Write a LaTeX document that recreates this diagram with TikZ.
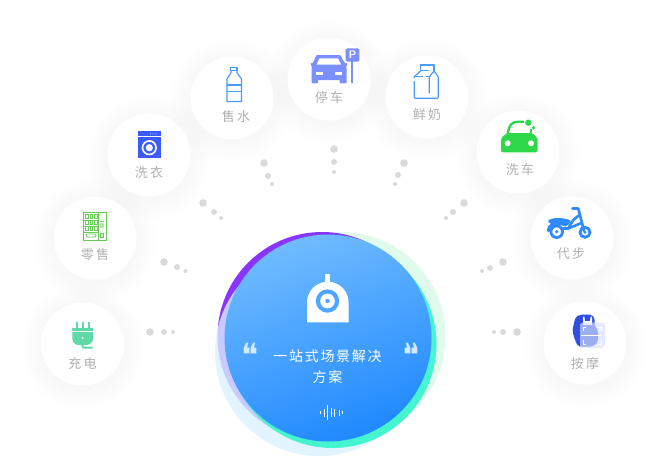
\documentclass[tikz,border=0pt]{standalone}
\usepackage{fontspec}
\newfontfamily\cjk[LetterSpace=18]{Noto Sans CJK SC}
\newfontfamily\cjkmid[LetterSpace=12]{Noto Sans CJK SC}
\newfontfamily\quotefont{DejaVu Sans}
\usetikzlibrary{backgrounds}
\definecolor{mainlight}{HTML}{6FBBFF}
\definecolor{maindark}{HTML}{2089FF}
\definecolor{plum}{HTML}{8A35FF}
\definecolor{sky}{HTML}{D9F1FF}
\definecolor{mint}{HTML}{E0FAEC}
\definecolor{teal}{HTML}{45F5D0}
\definecolor{labgray}{HTML}{B0B0B0}
\definecolor{dotgray}{HTML}{DADADA}
\definecolor{plug}{HTML}{5FD9A8}
\definecolor{vend}{HTML}{66CC55}
\definecolor{wash}{HTML}{3B5BFF}
\definecolor{aqua}{HTML}{4A9BFF}
\definecolor{park}{HTML}{7B8FFF}
\definecolor{clean}{HTML}{2DD84A}
\definecolor{moto}{HTML}{2E8BFF}
\definecolor{massage}{HTML}{2F4FE0}
\tikzset{
	card/.style={circle, fill=white, minimum size=83pt, inner sep=0pt},
	lab/.style={text=labgray, inner sep=0pt, font=\cjk\fontsize{13}{15}\selectfont},
	disc/.style={circle, minimum size=208pt, inner sep=0pt},
	quotemark/.style={text=white!70!mainlight, inner sep=0pt, font=\quotefont\fontsize{32}{32}\selectfont},
}
\begin{document}
\begin{tikzpicture}[x=1pt, y=-1pt]
	\useasboundingbox (0,0) rectangle (668,456);

	% 丸
	\node[card] (A) at (82.5, 344) {};
	\node[card] (B) at (95, 238) {};
	\node[card] (C) at (149, 155) {};
	\node[card] (D) at (232, 98) {};
	\node[card] (E) at (329, 79) {};
	\node[card] (F) at (427, 97) {};
	\node[card] (G) at (518, 152) {};
	\node[card] (H) at (572, 238) {};
	\node[card] (I) at (585, 343) {};

	% 影
	\begin{pgfonlayer}{background}
		\foreach \n in {A,B,C,D,E,F,G,H,I}
			\foreach \r in {44,47,...,62}
				\fill[black, opacity=0.004] ([yshift=-3pt]\n) circle (\r);
	\end{pgfonlayer}

	% 点
	\foreach \x/\y/\r in {150/332/3.8, 164/332/3, 173/332/2,
		164/262/3.8, 177/267/3, 185.5/271/2,
		203/203/3.8, 214/212/3, 221/218/2,
		264/163/3.8, 268/176/3, 272/184/2,
		334/149/3.8, 334/162/3, 334/172/2,
		404/163/3.8, 398/175/3, 395/184/2,
		464/203/3.8, 453/212/3, 446/218/2,
		503/262/3.8, 490/268/3, 482/271/2,
		517/332/3.8, 503/332/3, 494/332/2}
		\fill[dotgray] (\x,\y) circle (\r);

	% 真ん中の円
	\node[disc, fill=mint] (M1) at (341.5, 336) {};
	\node[disc, fill=plum, minimum size=209pt] (M2) at (322, 336.5) {};
	\node[disc, fill=sky, fill opacity=0.8] (M3) at (319, 352) {};
	\node[disc, fill=teal] (M4) at (332.5, 344) {};
	\node[disc, minimum size=207pt, top color=mainlight, bottom color=maindark, shading angle=20] (M) at (328, 338) {};

	% カメラ
	\fill[white] (325.3,274.3) rectangle (330,283);
	\fill[white] (307,322.3) -- (307,302.5) arc (180:360:20.8) -- (348.6,322.3) -- cycle;
	\fill[mainlight!60!maindark] (327.5,301) circle (11.7);
	\fill[white] (327.5,301) circle (7.3);
	\fill[mainlight!60!maindark] (327.5,301) circle (2.2);

	% 音
	\foreach \x/\h in {320.7/1.3, 324.3/4, 327.7/7.5, 331/4.5, 334.3/4, 339/3, 342.7/1.3}
		\draw[white, line width=0.6pt] (\x,412.7-\h) -- (\x,412.7+\h);

	% 文字
	\node[text=white, align=center, inner sep=0pt, font=\cjkmid\fontsize{14}{21}\selectfont] (T) at (327.5, 366.5) {一站式场景解决\\方案};
	\node[quotemark] (QL) at (250.5, 354.5) {❝};
	\node[quotemark] (QR) at (412, 354.5) {\reflectbox{❝}};

	\node[lab] (tA) at (82.5, 364) {充电};
	\node[lab] (tB) at (95, 255) {零售};
	\node[lab] (tC) at (149, 173) {洗衣};
	\node[lab] (tD) at (236, 117) {售水};
	\node[lab] (tE) at (329, 98) {停车};
	\node[lab] (tF) at (427, 115) {鲜奶};
	\node[lab] (tG) at (520, 170) {洗车};
	\node[lab] (tH) at (571, 254) {代步};
	\node[lab] (tI) at (585, 364) {按摩};

	% 充電
	\foreach \x in {76.7, 82.7, 88.7}
		\fill[plug] (\x-1.1,322) rectangle (\x+1.1,329);
	\fill[plug, rounded corners=1pt] (71.8,328) rectangle (93.5,331);
	\fill[plug] (72.3,332) -- (93,332) -- (93,339) .. controls (93,343) and (89,345) .. (86,345) -- (79,345) .. controls (76,345) and (72.3,343) .. (72.3,339) -- cycle;
	\fill[white] (82.7,338) circle (1);
	\draw[plug, line width=2pt] (82.7,345) -- (82.7,346.5) -- (83.5,347.7) -- (92.7,347.7);

	% 自販機
	\draw[vend, line width=1pt] (83.5,212) rectangle (106,240);
	\draw[vend, line width=1pt] (98.3,212) -- (98.3,240);
	\foreach \y in {214.5, 220.5, 226.5} {
		\draw[vend, line width=1pt] (83.5,\y+5.5) -- (98.3,\y+5.5);
		\foreach \x in {85.5, 90, 94.5}
			\draw[vend, line width=0.9pt] (\x,\y) rectangle (\x+2.6,\y+3.5);
	}
	\draw[vend, line width=0.9pt, rounded corners=1pt] (86,234) rectangle (96,237);
	\draw[vend, line width=0.9pt] (100.2,233) rectangle (103.8,237);
	\draw[vend, line width=0.8pt] (100.2,221) -- (103.8,221);
	\fill[vend!50!white] (100.2,223) rectangle (103.8,228);

	% 洗濯機
	\fill[wash] (137.7,131) rectangle (161.3,158.3);
	\draw[white, line width=0.8pt] (137.7,136.7) -- (161.3,136.7);
	\foreach \x in {150.5, 153, 156}
		\fill[white] (\x,133.8) circle (0.5);
	\draw[white, line width=1.6pt] (149.3,147.7) circle (6.8);
	\fill[white] (149.3,147.7) circle (3.6);

	% ボトル
	\draw[aqua, line width=1.2pt, line join=round] (230.5,67.5) rectangle (237,70.7);
	\draw[aqua, line width=1.2pt, line join=round] (231,70.7) -- (231,72.7) -- (227,79) -- (227,101.5) -- (241.5,101.5) -- (241.5,79) -- (237,72.7) -- (237,70.7);
	\draw[aqua, line width=1.2pt] (227,85) -- (241.5,85);
	\draw[aqua, line width=1.2pt] (227,91.7) -- (241.5,91.7);

	% 車と標識
	\fill[park, rounded corners=3pt] (311.5,65) -- (315,59) .. controls (316,56) and (317,55) .. (320,55) -- (337,55) .. controls (340,55) and (341,56) .. (342,59) -- (346.5,65) -- (346.5,80) -- (311.5,80) -- cycle;
	\fill[park] (311,63.3) rectangle (315,66);
	\fill[park] (342.7,63.3) rectangle (347,66);
	\fill[park, rounded corners=1pt] (311.7,76) rectangle (318,83.3);
	\fill[park, rounded corners=1pt] (339.5,76) rectangle (346.5,83.3);
	\fill[white] (316.5,64.5) -- (319.5,58.3) -- (338,58.3) -- (341,64.5) -- cycle;
	\fill[white] (316,71.7) rectangle (322.7,75);
	\fill[white] (335,71.7) rectangle (341.7,75);
	\fill[park, rounded corners=1.5pt] (345.7,48.3) rectangle (359.3,61.7);
	\fill[park] (351.4,61) rectangle (353.2,82.7);
	\node[text=white, inner sep=0pt, font=\sffamily\bfseries\fontsize{11}{11}\selectfont] (P) at (352.5, 55) {P};

	% 牛乳
	\draw[aqua, line width=1.2pt, line join=round] (420.7,70.7) -- (420.7,65) -- (434,65) -- (434,70.7);
	\draw[aqua, line width=1.2pt, line join=round] (420.7,70.7) -- (414.3,76.7) -- (414.3,78);
	\draw[aqua, line width=1.2pt, line join=round, rounded corners=1pt] (414.3,81) -- (414.3,98.3) -- (438.3,98.3) -- (438.3,76.7) -- (434,71) -- (429.3,76.7) -- (429.3,93.3);
	\draw[aqua, line width=1.2pt] (420.7,70.7) -- (429.3,70.7);
	\draw[aqua, line width=1.2pt] (414.3,76.7) -- (423,76.7);
	\draw[aqua, line width=1.2pt] (425.5,76.7) -- (429.3,76.7);

	% 洗車
	\draw[clean, line width=2.4pt] (507.7,134) .. controls (509,124) and (513,121.7) .. (518,121.7) -- (524,121.7);
	\fill[clean, rounded corners=2pt] (507,133) -- (532,133) -- (537.7,138) -- (537.7,152.3) -- (501,152.3) -- (501,138) -- cycle;
	\draw[clean, line width=2.4pt] (531,128.5) -- (531,135);
	\fill[white] (507.7,143.3) circle (3);
	\fill[white] (531,143.3) circle (3);
	\fill[clean] (528.3,122.7) circle (3.2);
	\fill[clean] (533.5,127.7) circle (1.9);

	% バイク
	\draw[moto, line width=2.8pt] (556.7,231.7) circle (5.8);
	\fill[moto] (556.7,231.7) circle (1.8);
	\draw[moto, line width=2.8pt] (585,232.3) circle (5);
	\fill[moto] (585,232.3) circle (1.6);
	\draw[moto, line width=2.6pt, line cap=round, line join=round] (572.3,208.5) -- (578.3,208.5) -- (584,231);
	\draw[moto, line width=2.6pt, line cap=round, line join=round] (580,214.5) -- (573.3,220) -- (568,228.5) -- (561,228.5);
	\draw[moto, line width=2.6pt, line cap=round, line join=round] (568,228.5) -- (581.5,223);
	\draw[moto, line width=2.8pt, line cap=round, line join=round] (548.5,231) .. controls (548,224) and (555,223) .. (562,224) -- (566,225);
	\fill[moto, rounded corners=1pt] (547.5,221) .. controls (553,217) and (563,217.5) .. (571,220.5) -- (568.5,225) -- (552,225) -- cycle;

	% マッサージ
	\fill[massage, rounded corners=2pt] (575.5,317) -- (580,314.7) -- (592,314.7) -- (594.5,318) -- (594.5,326) -- (598,330) -- (598,342) -- (593,346.5) -- (578,346.5) -- (575,340) -- (572.3,331) -- (574,323) -- cycle;
	\fill[white] (583,316.5) -- (584.3,316.5) -- (585,321) -- (590,321) -- (590.7,316.5) -- (592,316.5) -- (592,325) -- (583,325) -- cycle;
	\fill[massage!18!white, opacity=0.65, rounded corners=2.5pt] (580,322.7) rectangle (605,348);
	\draw[white, line width=0.8pt] (581,335) -- (601,335);
	\draw[white, line width=0.8pt] (583,330.5) -- (583,327) -- (586,327);
	\draw[white, line width=0.8pt] (598,327) -- (601,327) -- (601,330.5);
	\draw[white, line width=0.8pt] (583,339.5) -- (583,344) -- (586,344);
	\draw[white, line width=0.8pt] (598,344) -- (601,344) -- (601,339.5);
\end{tikzpicture}
\end{document}
